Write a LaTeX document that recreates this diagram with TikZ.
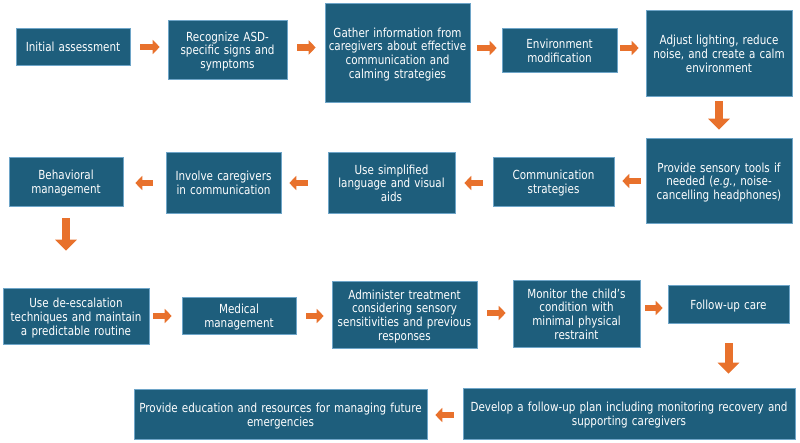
\documentclass[tikz,border=0pt]{standalone}
\usepackage{fontspec}
\setmainfont{DejaVu Sans}[FakeStretch=0.83]
\usetikzlibrary{arrows.meta}
\setlength{\parindent}{0pt}

\definecolor{boxblue}{RGB}{30,94,124}
\definecolor{boxedge}{RGB}{110,165,200}
\definecolor{arrorange}{RGB}{232,113,44}

\tikzset{
  box/.style={draw=boxedge, line width=0.6pt, fill=boxblue, text=white,
    align=center, inner sep=0pt, font=\fontsize{12.5}{13.8}\selectfont,
    execute at begin node={\rule{0pt}{14pt}},
    execute at end node={\rule[-3.4pt]{0pt}{0pt}}},
  harr/.style={draw=arrorange, line width=6.5pt, -{Triangle[width=14pt,length=7pt]}},
  varr/.style={draw=arrorange, line width=8pt, -{Triangle[width=21pt,length=11pt]}}
}

\begin{document}
\begin{tikzpicture}[x=1pt, y=-1pt]
    \useasboundingbox (0,0) rectangle (800,442);

    % First row
    \node[box, text width=114pt, minimum height=37pt] (init) at (73,46.5) {Initial assessment};
    \node[box, text width=119pt, minimum height=59pt] (signs) at (227.5,49.5) {Recognize ASD-\\specific signs and\\symptoms};
    \node[box, text width=145pt, minimum height=99pt] (gather) at (397.5,52.5) {Gather information from\\caregivers about effective\\communication and\\calming strategies};
    \node[box, text width=115pt, minimum height=44pt] (envmod) at (559.5,50) {Environment\\modification};
    \node[box, text width=146pt, minimum height=86pt] (adjust) at (719,53) {Adjust lighting, reduce\\noise, and create a calm\\environment};

    % Second row
    \node[box, text width=146pt, minimum height=85pt] (sensory) at (719,180.5) {Provide sensory tools if\\needed (\textit{e.g.}, noise-\\cancelling headphones)};
    \node[box, text width=121pt, minimum height=49pt] (commstrat) at (553.5,181.5) {Communication\\strategies};
    \node[box, text width=127pt, minimum height=61pt] (simplify) at (391.5,182.5) {Use simplified\\language and visual\\aids};
    \node[box, text width=115pt, minimum height=61pt] (involve) at (223.5,182.5) {Involve caregivers\\in communication};
    \node[box, text width=114pt, minimum height=49pt] (behav) at (66,181.5) {Behavioral\\management};

    % Third row
    \node[box, text width=146pt, minimum height=56pt] (deesc) at (76,316) {Use de-escalation\\techniques and maintain\\a predictable routine};
    \node[box, text width=114pt, minimum height=37pt] (medical) at (239,315.5) {Medical\\management};
    \node[box, text width=145pt, minimum height=67pt] (treat) at (404.5,314.5) {Administer treatment\\considering sensory\\sensitivities and previous\\responses};
    \node[box, text width=127pt, minimum height=67pt] (monitor) at (576.5,313.5) {Monitor the child’s\\condition with\\minimal physical\\restraint};
    \node[box, text width=121pt, minimum height=38pt] (followup) at (728.5,304) {Follow-up care};

    % Last row
    \node[box, text width=332pt, minimum height=51pt] (plan) at (629,413.5) {Develop a follow-up plan including monitoring recovery and\\supporting caregivers};
    \node[box, text width=293pt, minimum height=50pt] (educate) at (280.5,414) {Provide education and resources for managing future\\emergencies};

    % Arrows, first row
    \draw[harr, shorten <=10pt, shorten >=8pt] (init.east |- 0,47) -- (signs.west |- 0,47);
    \draw[harr, shorten <=10pt, shorten >=9pt] (signs.east |- 0,47.5) -- (gather.west |- 0,47.5);
    \draw[harr, shorten <=7pt, shorten >=5pt] (gather.east |- 0,48) -- (envmod.west |- 0,48);
    \draw[harr, shorten <=3pt, shorten >=7pt] (envmod.east |- 0,48) -- (adjust.west |- 0,48);
    \draw[varr, shorten <=5pt, shorten >=8pt] (adjust.south) -- (sensory.north);

    % Arrows, second row
    \draw[harr, shorten <=5pt, shorten >=8pt] (sensory.west |- 0,181) -- (commstrat.east |- 0,181);
    \draw[harr, shorten <=10pt, shorten >=9pt] (commstrat.west |- 0,183) -- (simplify.east |- 0,183);
    \draw[harr, shorten <=20pt, shorten >=8pt] (simplify.west |- 0,183) -- (involve.east |- 0,183);
    \draw[harr, shorten <=13pt, shorten >=12pt] (involve.west |- 0,183) -- (behav.east |- 0,183);
    \draw[varr, shorten <=12pt, shorten >=37pt] (behav.south) -- (deesc.north -| behav.south);

    % Arrows, third row
    \draw[harr, shorten <=4pt, shorten >=10pt] (deesc.east |- 0,316) -- (medical.west |- 0,316);
    \draw[harr, shorten <=10pt, shorten >=8pt] (medical.east |- 0,316) -- (treat.west |- 0,316);
    \draw[harr, shorten <=10pt, shorten >=7pt] (treat.east |- 0,313) -- (monitor.west |- 0,313);
    \draw[harr, shorten <=5pt, shorten >=5pt] (monitor.east |- 0,308) -- (followup.west |- 0,308);
    \draw[varr, shorten <=20pt, shorten >=14pt] (followup.south) -- (plan.north -| followup.south);

    % Arrow, last row
    \draw[harr, shorten <=9pt, shorten >=8pt] (plan.west |- 0,415) -- (educate.east |- 0,415);
  \end{tikzpicture}
\end{document}
